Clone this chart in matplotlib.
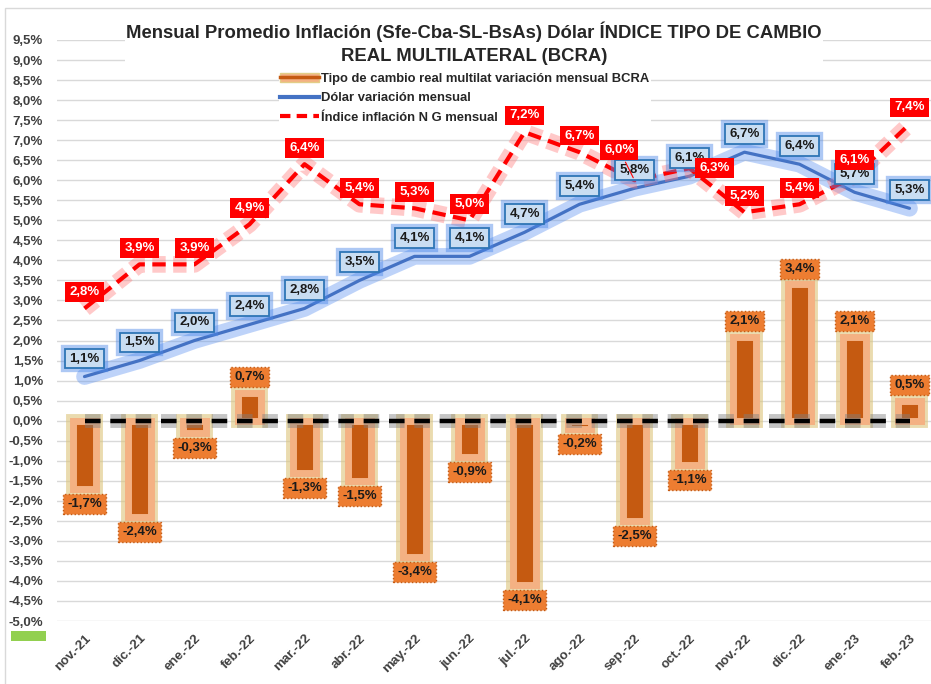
import matplotlib
matplotlib.use("Agg")
import matplotlib.pyplot as plt
import matplotlib.patheffects as pe
from matplotlib.lines import Line2D
from matplotlib.patches import Patch, Rectangle
import numpy as np

plt.rcParams['font.family'] = ['Liberation Sans Narrow', 'Liberation Sans', 'DejaVu Sans']

meses = ['nov.-21', 'dic.-21', 'ene.-22', 'feb.-22', 'mar.-22', 'abr.-22', 'may.-22', 'jun.-22',
         'jul.-22', 'ago.-22', 'sep.-22', 'oct.-22', 'nov.-22', 'dic.-22', 'ene.-23', 'feb.-23']
tcrm = [-1.7, -2.4, -0.3, 0.7, -1.3, -1.5, -3.4, -0.9, -4.1, -0.2, -2.5, -1.1, 2.1, 3.4, 2.1, 0.5]
dolar = [1.1, 1.5, 2.0, 2.4, 2.8, 3.5, 4.1, 4.1, 4.7, 5.4, 5.8, 6.1, 6.7, 6.4, 5.7, 5.3]
inflacion = [2.8, 3.9, 3.9, 4.9, 6.4, 5.4, 5.3, 5.0, 7.2, 6.7, 6.0, 6.3, 5.2, 5.4, 6.1, 7.4]
cero = [0.0] * len(meses)
yticks = np.arange(-5.0, 9.51, 0.5)

def pct(v):
    return f"{v:.1f}%".replace('.', ',')

fig = plt.figure(figsize=(9.31, 6.84), dpi=100)
ax = fig.add_axes([57 / 931, 1 - 621 / 684, 880 / 931, 581 / 684])
x = np.arange(len(meses))

# grid
ax.set_ylim(-5.0, 9.5)
ax.set_xlim(-0.5, 15.5)
ax.set_yticks(yticks)
ax.set_yticklabels([pct(v) for v in yticks], fontsize=9.5, fontweight='bold', color='#404040')
ax.set_xticks(x)
ax.set_xticklabels(meses, rotation=45, ha='right', rotation_mode='anchor',
                   fontsize=9.5, fontweight='bold', color='#404040')
ax.tick_params(length=0)
ax.tick_params(axis='y', pad=10)
ax.tick_params(axis='x', pad=8)
ax.grid(axis='y', color='#D9D9D9', lw=1)
ax.set_axisbelow(True)
for s in ax.spines.values():
    s.set_visible(False)

# bars
bars = ax.bar(x, tcrm, width=0.42, color='#C55A11', edgecolor='#F4B183', linewidth=5, zorder=2)
for b in bars:
    b.set_path_effects([pe.Stroke(linewidth=10, foreground='#DCC47A', alpha=0.6), pe.Normal()])

# zero line
ax.plot(x, cero, color='black', lw=3.2, dashes=(3.5, 2.2), zorder=3,
        path_effects=[pe.Stroke(linewidth=10, foreground='#7F7F7F', alpha=0.45), pe.Normal()])

# lines
ax.plot(x, dolar, color='#4472C4', lw=2.3, zorder=4, solid_capstyle='round',
        path_effects=[pe.Stroke(linewidth=12, foreground='#5E93F2', alpha=0.4), pe.Normal()])
ax.plot(x, inflacion, color='#FF0000', lw=3, dashes=(3.2, 1.8), zorder=5,
        path_effects=[pe.Stroke(linewidth=12, foreground='#FF7A7A', alpha=0.4), pe.Normal()])

# bar labels
for i, v in enumerate(tcrm):
    off = 11 if v > 0 else -11
    ax.annotate(pct(v), (i, v), xytext=(0, off), textcoords='offset points', ha='center', va='center',
                fontsize=9.5, fontweight='bold', color='#1a1a1a', zorder=7,
                bbox=dict(boxstyle='square,pad=0.3', fc='#ED7D31', ec='#C55A11', lw=1, ls=':'))

# dolar labels
for i, v in enumerate(dolar):
    t = ax.annotate(pct(v), (i, v), xytext=(0, 13), textcoords='offset points', ha='center', va='center',
                    fontsize=9.5, fontweight='bold', color='#1a1a1a', zorder=7,
                    bbox=dict(boxstyle='square,pad=0.3', fc='#C9DDF2', ec='#2E75B6', lw=1.3))
    t.get_bbox_patch().set_path_effects([pe.Stroke(linewidth=6, foreground='#4A86E8', alpha=0.45), pe.Normal()])

# inflacion labels
infl_off = {10: (-11, 22), 11: (18, 0)}
for i, v in enumerate(inflacion):
    dx, dy = infl_off.get(i, (0, 12))
    arrow = dict(arrowstyle='-', color='#FF0000', lw=0.8) if i == 10 else None
    ax.annotate(pct(v), (i, v), xytext=(dx, dy), textcoords='offset points', ha='center', va='center',
                fontsize=9.5, fontweight='bold', color='white', zorder=8, arrowprops=arrow,
                bbox=dict(boxstyle='square,pad=0.3', fc='#FF0000', ec='none'))

# title
fig.text(474 / 931, 1 - 43 / 684, 'Mensual Promedio Inflación (Sfe-Cba-SL-BsAs) Dólar ÍNDICE TIPO DE CAMBIO\nREAL MULTILATERAL (BCRA)',
         ha='center', va='center', fontsize=13.3, fontweight='bold', color='#262626', linespacing=1.45,
         bbox=dict(fc='white', ec='none', pad=1), zorder=10)

# legend
h_tcrm = (Patch(facecolor='#F4B183', edgecolor='#E2CD86'), Line2D([], [], color='#C55A11', lw=2.5))
h_dolar = Line2D([], [], color='#4472C4', lw=3)
h_infl = Line2D([], [], color='#FF0000', lw=3, dashes=(2.5, 1.5))
leg = ax.legend([h_tcrm, h_dolar, h_infl],
                ['Tipo de cambio real multilat variación mensual BCRA', 'Dólar variación mensual',
                 'Índice inflación N G mensual'],
                loc='upper left', bbox_to_anchor=(272 / 931, 1 - 65 / 684), bbox_transform=fig.transFigure,
                frameon=True, facecolor='white', edgecolor='none', framealpha=1, fancybox=False,
                fontsize=9.4, handlelength=3.0, handletextpad=0.15, labelspacing=0.55, borderpad=0.1)
leg.set_zorder(6.5)
for t in leg.get_texts():
    t.set_fontweight('bold')
    t.set_color('#262626')

# chart border and stray green cell
fig.patches.append(Rectangle((5 / 931, -0.1), 2, 1.1 - 8 / 684, transform=fig.transFigure,
                             fill=False, ec='#D9D9D9', lw=1))
fig.patches.append(Rectangle((11 / 931, 1 - 641 / 684), 35 / 931, 10 / 684, transform=fig.transFigure,
                             fc='#92D050', ec='none'))

fig.savefig('out.png', dpi=100)
